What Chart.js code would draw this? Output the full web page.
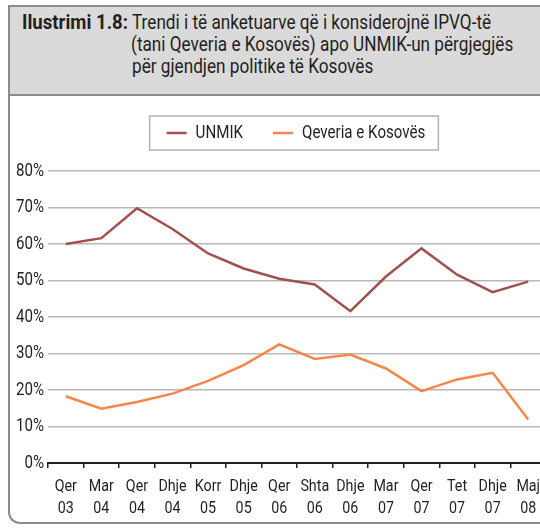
<!DOCTYPE html>
<html>
<head>
<meta charset="utf-8">
<script src="https://cdn.jsdelivr.net/npm/chart.js@4/dist/chart.umd.min.js"></script>
<style>
  html, body { margin: 0; padding: 0; background: #fff; }
  body { width: 540px; height: 528px; overflow: hidden; position: relative;
         font-family: Roboto, sans-serif; color: #231f20; }
  #frame { position: absolute; left: 8px; top: 60px; width: 600px; height: 462px;
           border-left: 2px solid #8c8c8c; border-bottom: 2px solid #8c8c8c; border-bottom-left-radius: 12px; }
  #titlebox { position: absolute; left: 8px; top: 5px; width: 600px; height: 87px;
              background: #dadada; border: 2px solid #8c8c8c; }
  .t { position: absolute; font-size: 20px; white-space: nowrap; line-height: 22px; transform-origin: 0 50%; }
  #chartWrap { position: absolute; left: 0; top: 100px; width: 560px; height: 428px; }
</style>
</head>
<body>
<div id="frame"></div>
<div id="titlebox"></div>
<div class="t" id="tLabel" style="left:22px; top:11px;"><b>Ilustrimi 1.8:</b></div>
<div class="t tl" style="left:132px; top:11px;">Trendi i të anketuarve që i konsiderojnë IPVQ-të</div>
<div class="t tl" id="tLong" style="left:131px; top:33px;">(tani Qeveria e Kosovës) apo UNMIK-un përgjegjës</div>
<div class="t tl" style="left:132px; top:55px;">për gjendjen politike të Kosovës</div>
<div id="chartWrap"><canvas id="myChart" width="560" height="428"></canvas></div>

<script>
'use strict';

const FONT = "Roboto, sans-serif";
const SQUEEZE = 0.84; // source uses a condensed face, none installed here

const categories = [
  ["Qer", "03"], ["Mar", "04"], ["Qer", "04"], ["Dhje", "04"], ["Korr", "05"],
  ["Dhje", "05"], ["Qer", "06"], ["Shta", "06"], ["Dhje", "06"], ["Mar", "07"],
  ["Qer", "07"], ["Tet", "07"], ["Dhje", "07"], ["Maj", "08"],
];
const unmikValues = [60.0, 61.6, 69.8, 64.1, 57.4, 53.3, 50.5, 48.9, 41.6, 51.1, 58.8, 51.6, 46.8, 49.7];
const qeveriaValues = [18.3, 14.9, 16.7, 19.0, 22.5, 26.8, 32.5, 28.5, 29.7, 25.9, 19.7, 22.9, 24.7, 11.9];
const yTicks = [0, 10, 20, 30, 40, 50, 60, 70, 80];

function squeezeTitle() {
  const lines = document.querySelectorAll(".tl");
  const k = 382 / document.getElementById("tLong").offsetWidth;
  for (let i = 0; i < lines.length; i++) {
    lines[i].style.transform = `scaleX(${k})`;
  }
  const lab = document.getElementById("tLabel");
  lab.style.transform = `scaleX(${106 / lab.offsetWidth})`;
}

// narrow every canvas text draw, and report narrower widths to Chart.js
function squeezeCanvasText(c2d, k) {
  const fill = c2d.fillText;
  const measure = c2d.measureText;
  c2d.fillText = function (text, x, y, maxWidth) {
    this.save();
    this.translate(x, y);
    this.scale(k, 1);
    fill.call(this, text, 0, 0);
    this.restore();
  };
  c2d.measureText = function (text) {
    const m = measure.call(this, text);
    return {
      width: m.width * k,
      actualBoundingBoxAscent: m.actualBoundingBoxAscent,
      actualBoundingBoxDescent: m.actualBoundingBoxDescent,
      actualBoundingBoxLeft: m.actualBoundingBoxLeft * k,
      actualBoundingBoxRight: m.actualBoundingBoxRight * k,
    };
  };
}

// legend: extra room under it, nudged right, and a box round it
const legendBox = {
  id: "legendBox",
  beforeUpdate(chart) {
    const legend = chart.legend;
    if (legend && !legend._patched) {
      const fit = legend.fit;
      const adjust = legend.adjustHitBoxes;
      legend.fit = function () {
        fit.call(this);
        this.height += 19;
      };
      legend.adjustHitBoxes = function () {
        this.left += 23;
        this.right += 23;
        adjust.call(this);
      };
      legend._patched = true;
    }
  },
  afterDraw(chart) {
    const boxes = chart.legend.legendHitBoxes;
    if (!boxes || !boxes.length) return;
    let left = Infinity, right = -Infinity, top = Infinity, bottom = -Infinity;
    for (let i = 0; i < boxes.length; i++) {
      const b = boxes[i];
      left = Math.min(left, b.left);
      right = Math.max(right, b.left + b.width);
      top = Math.min(top, b.top);
      bottom = Math.max(bottom, b.top + b.height);
    }
    const ctx = chart.ctx;
    ctx.save();
    ctx.strokeStyle = "#b3b3b3";
    ctx.lineWidth = 1.5;
    ctx.strokeRect(left - 17, top - 8, right - left + 30, bottom - top + 16);
    ctx.restore();
  },
};

function renderChart() {
  const canvas = document.getElementById("myChart");
  squeezeCanvasText(canvas.getContext("2d"), SQUEEZE);

  new Chart(canvas, {
    type: "line",
    data: {
      labels: categories,
      datasets: [
        {
          label: "UNMIK",
          data: unmikValues,
          borderColor: "#a0504f",
          backgroundColor: "#a0504f",
          borderWidth: 2.5,
          pointRadius: 0,
          tension: 0,
        },
        {
          label: "Qeveria e Kosovës",
          data: qeveriaValues,
          borderColor: "#f7864a",
          backgroundColor: "#f7864a",
          borderWidth: 2.5,
          pointRadius: 0,
          tension: 0,
        },
      ],
    },
    options: {
      responsive: false,
      animation: false,
      layout: { padding: { top: -6, right: 14, left: 0, bottom: 0 } },
      plugins: {
        tooltip: { enabled: false },
        legend: {
          display: true,
          position: "top",
          labels: {
            usePointStyle: true,
            pointStyle: "line",
            pointStyleWidth: 20,
            color: "#231f20",
            font: { family: FONT, size: 18 },
            padding: 30,
          },
        },
      },
      scales: {
        x: {
          offset: true,
          grid: {
            offset: true,
            drawOnChartArea: false,
            drawTicks: true,
            tickLength: 5,
            color: "#231f20",
            lineWidth: 1.5,
          },
          border: { display: true, color: "#231f20", width: 2 },
          ticks: {
            color: "#231f20",
            font: { family: FONT, size: 17, lineHeight: 1.3 },
            maxRotation: 0,
            autoSkip: false,
            padding: 8,
          },
          afterFit(scale) { scale.height = 65; },
        },
        y: {
          min: 0,
          max: 80,
          afterBuildTicks(scale) { scale.ticks = yTicks.map(v => ({ value: v })); },
          grid: { color: "#b8b8b8", lineWidth: 1.5, drawTicks: false },
          border: { display: false },
          ticks: {
            color: "#231f20",
            font: { family: FONT, size: 18 },
            padding: 4,
            callback: v => v + "%",
          },
          afterFit(scale) { scale.width = 48; },
        },
      },
    },
    plugins: [legendBox],
  });
}

document.fonts.load("20px Roboto").then(() => document.fonts.load("bold 20px Roboto")).then(() => {
  squeezeTitle();
  renderChart();
});
</script>
</body>
</html>
